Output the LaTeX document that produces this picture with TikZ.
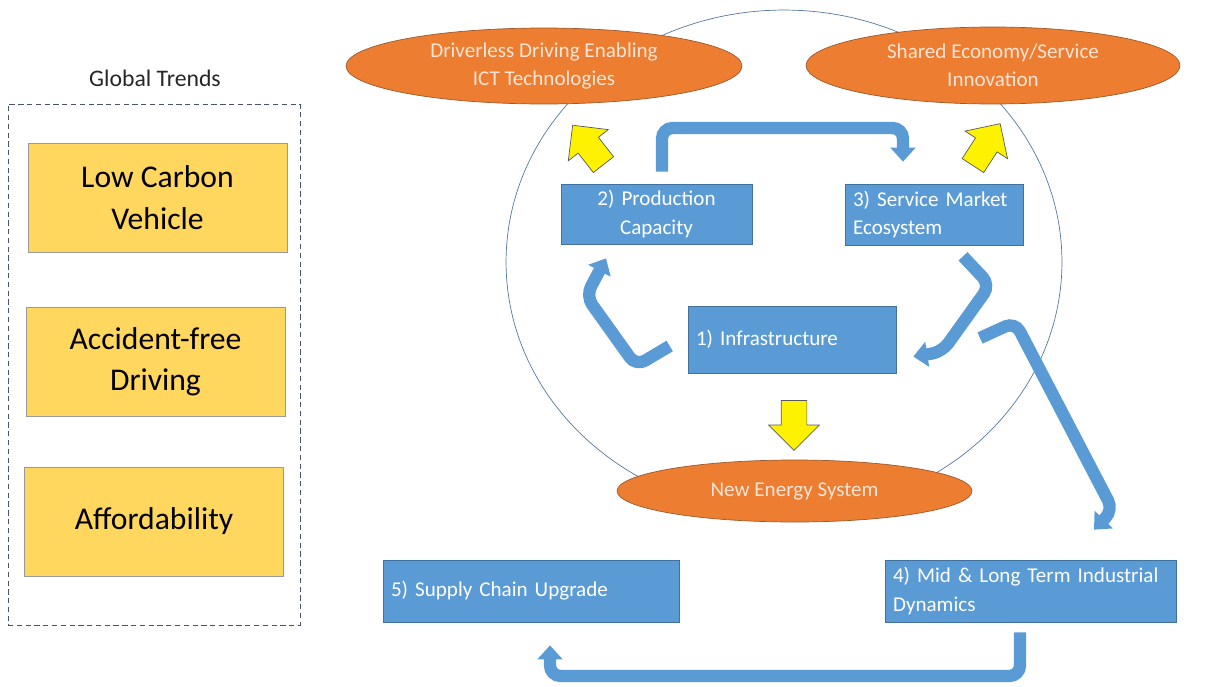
\documentclass[tikz,border=0pt]{standalone}
\usepackage{fontspec}
\setmainfont{Carlito}
\usepackage{tikz}
\usetikzlibrary{arrows.meta}
\usetikzlibrary{shapes.geometric,shapes.arrows}
\usetikzlibrary{positioning}
\definecolor{boxblue}{HTML}{5B9BD5}
\definecolor{boxedge}{HTML}{41719C}
\definecolor{ovalorange}{HTML}{ED7D31}
\definecolor{ovaledge}{HTML}{9C5A2E}
\definecolor{ovaltext}{HTML}{FBE5D6}
\definecolor{trendyellow}{HTML}{FFD75E}
\definecolor{ringline}{HTML}{56789E}
\definecolor{dashline}{HTML}{44546A}
\tikzstyle{stage}=[draw=boxedge,fill=boxblue,text=white,rectangle,inner xsep=0.16cm,inner ysep=0pt,font=\fontsize{12}{16}\selectfont]
\tikzstyle{goal}=[draw=ovaledge,fill=ovalorange,text=ovaltext,ellipse,inner sep=0pt,align=center,font=\fontsize{12}{16}\selectfont]
\tikzstyle{trend}=[draw=gray!80,fill=trendyellow,rectangle,minimum width=5.18cm,minimum height=2.18cm,align=center,font=\fontsize{18}{23.5}\selectfont]
\tikzstyle{push}=[single arrow,draw=gray!70!black,fill=yellow,inner xsep=0pt,inner ysep=0.25cm,minimum height=1.0cm,single arrow head extend=0.25cm]
\tikzstyle{flow}=[draw=boxblue,line width=7pt,rounded corners=6pt,-{Triangle[width=14pt,length=8pt]}]

\begin{document}
\begin{tikzpicture}[x=0.02cm,y=-0.02cm]
	\useasboundingbox (0,0) rectangle (1222,686);
	% global trends column
	\node [font=\fontsize{13.5}{16}\selectfont,text=black!85] (title) at (155,78) {Global Trends};
	\node [draw=dashline,densely dashed,thin,minimum width=5.84cm,minimum height=10.42cm] (trendbox) at (154,364.5) {};
	\node [trend] (carbon) at (157.5,197.5) {Low Carbon\\Vehicle};
	\node [trend] (safe) at (155.5,361.5) {Accident-free\\Driving};
	\node [trend] (cost) at (154,521.5) {Affordability};
	% ring
	\draw [ringline,thin] (784,262) ellipse [x radius=5.56cm,y radius=5.04cm];
	\node [goal,minimum width=7.92cm,minimum height=1.52cm] (ict) at (544,66) {Driverless Driving Enabling\\ICT Technologies};
	\node [goal,minimum width=7.48cm,minimum height=1.54cm] (share) at (993,65.5) {Shared Economy/Service\\Innovation};
	\node [goal,minimum width=7.1cm,minimum height=1.24cm] (energy) at (794.5,491) {New Energy System};
	% stages
	\node [stage,text width=3.5cm,align=center,minimum height=1.2cm] (prod) at (656.5,214) {2) Production\\Capacity};
	\node [stage,text width=3.24cm,align=left,minimum height=1.22cm] (serv) at (934,214.5) {3) Service Market\\Ecosystem};
	\node [stage,text width=3.84cm,align=left,minimum height=1.34cm] (infra) at (792,339.5) {1) Infrastructure};
	\node [stage,text width=5.5cm,align=left,minimum height=1.24cm] (dyn) at (1030.5,591) {4) Mid \& Long Term Industrial\\Dynamics};
	\node [stage,text width=5.6cm,align=left,minimum height=1.24cm] (supp) at (531,591) {5) Supply Chain Upgrade};
	% yellow pushes
	\node [push,rotate=-90] (todown) at (794,419) {};
	\node [push,rotate=128] (toict) at (592,150) {};
	\node [push,rotate=57] (toshare) at (983,150) {};
	% flows
	\coordinate (spill) at (980,338);
	\draw [flow] ([shift={(0.11cm,0.24cm)}]prod.north) |- (903,128) -- ([shift={(-0.62cm,0.44cm)}]serv.north);
	\draw [flow] ([shift={(-0.36cm,-0.13cm)}]infra.west) -- (636,366) -- (586,296) -- ([shift={(-1.01cm,-0.28cm)}]prod.south);
	\draw [flow] ([shift={(0.58cm,-0.22cm)}]serv.south) -- (990,285) -- (942,352) -- ([shift={(0.34cm,-0.34cm)}]infra.east);
	\draw [flow] (spill) -- (1015,322) -- (1113,510) -- ([shift={(1.27cm,0.6cm)}]dyn.north);
	\draw [flow] ([shift={(-0.21cm,-0.2cm)}]dyn.south) |- (550,676) -- ([shift={(0.38cm,-0.46cm)}]supp.south);
\end{tikzpicture}
\end{document}
